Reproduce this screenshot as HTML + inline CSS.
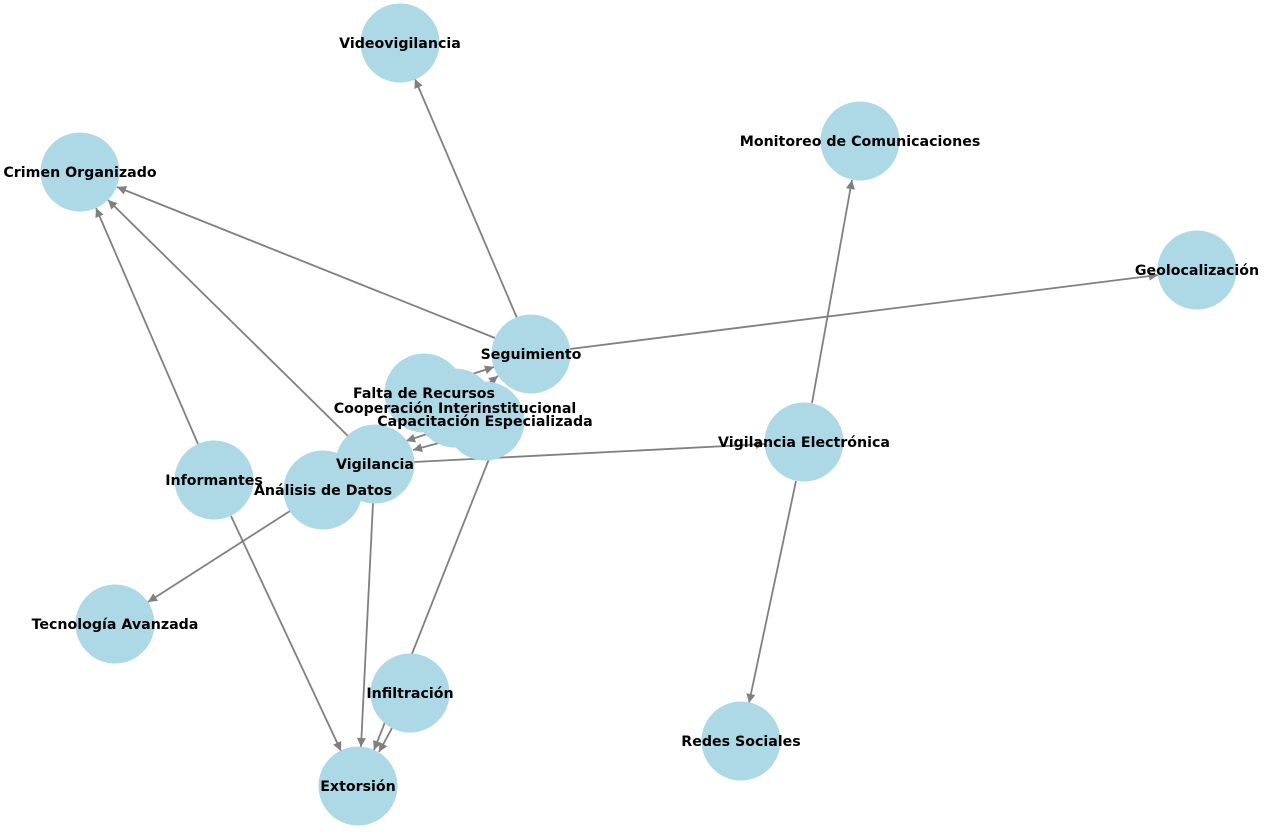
<!DOCTYPE html>
<html><head><meta charset="utf-8"><style>
html,body{margin:0;padding:0;background:#fff;}
svg{display:block;}
text{font-family:"DejaVu Sans","Liberation Sans",sans-serif;font-weight:bold;font-size:14.2px;fill:#000;text-anchor:middle;dominant-baseline:central;}
</style></head><body>
<svg width="1264" height="834" viewBox="0 0 1264 834" xmlns="http://www.w3.org/2000/svg">
<defs><marker id="a" viewBox="0 0 10 10" refX="10" refY="5" markerWidth="12" markerHeight="9" markerUnits="userSpaceOnUse" orient="auto"><path d="M0,0L10,5L0,10z" fill="#808080"/></marker></defs>
<g stroke="#808080" stroke-width="1.8" fill="none" marker-end="url(#a)">
<line x1="517" y1="318" x2="415" y2="79"/>
<line x1="495" y1="338" x2="117" y2="187"/>
<line x1="570" y1="349" x2="1158" y2="275"/>
<line x1="812" y1="403" x2="852" y2="180"/>
<line x1="796" y1="481" x2="749" y2="703"/>
<line x1="414" y1="462" x2="765" y2="444"/>
<line x1="198" y1="444" x2="96" y2="208"/>
<line x1="348" y1="436" x2="108" y2="200"/>
<line x1="231" y1="516" x2="341" y2="751"/>
<line x1="373" y1="503" x2="361" y2="747"/>
<line x1="290" y1="511" x2="148" y2="602"/>
<line x1="489" y1="459" x2="374" y2="750"/>
<line x1="392" y1="728" x2="379" y2="752"/>
<line x1="460" y1="378" x2="494" y2="367"/>
<line x1="480" y1="390" x2="498" y2="376"/>
<line x1="430" y1="433" x2="406" y2="441"/>
<line x1="450" y1="440" x2="413" y2="450"/>
</g>
<g fill="#add8e6">
<circle cx="400" cy="43" r="39.5"/>
<circle cx="860" cy="141" r="39.5"/>
<circle cx="80" cy="172" r="39.5"/>
<circle cx="1197" cy="270" r="39.5"/>
<circle cx="531" cy="354" r="39.5"/>
<circle cx="424" cy="393" r="39.5"/>
<circle cx="455" cy="408" r="39.5"/>
<circle cx="485" cy="421" r="39.5"/>
<circle cx="804" cy="442" r="39.5"/>
<circle cx="375" cy="464" r="39.5"/>
<circle cx="214" cy="480" r="39.5"/>
<circle cx="323" cy="490" r="39.5"/>
<circle cx="115" cy="624" r="39.5"/>
<circle cx="410" cy="693" r="39.5"/>
<circle cx="741" cy="741" r="39.5"/>
<circle cx="358" cy="786" r="39.5"/>
</g>
<g transform="translate(0,1)">
<text x="400" y="43">Videovigilancia</text>
<text x="860" y="141">Monitoreo de Comunicaciones</text>
<text x="80" y="172">Crimen Organizado</text>
<text x="1197" y="270">Geolocalización</text>
<text x="531" y="354">Seguimiento</text>
<text x="424" y="393">Falta de Recursos</text>
<text x="455" y="408">Cooperación Interinstitucional</text>
<text x="485" y="421">Capacitación Especializada</text>
<text x="804" y="442">Vigilancia Electrónica</text>
<text x="375" y="464">Vigilancia</text>
<text x="214" y="480">Informantes</text>
<text x="323" y="490">Análisis de Datos</text>
<text x="115" y="624">Tecnología Avanzada</text>
<text x="410" y="693">Infiltración</text>
<text x="741" y="741">Redes Sociales</text>
<text x="358" y="786">Extorsión</text>
</g>
</svg>
</body></html>
